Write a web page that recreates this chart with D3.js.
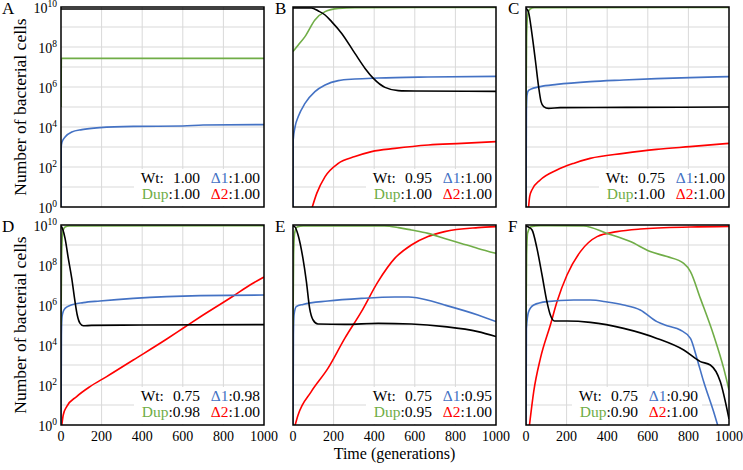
<!DOCTYPE html>
<html><head><meta charset="utf-8">
<script src="https://cdn.jsdelivr.net/npm/d3@7"></script>
<style>
body{margin:0;background:#fff}
</style>
</head><body>
<svg id="chart" width="743" height="470"></svg>
<script>
// ---------------- DATA ----------------
const panelLabels = ["A", "B", "C", "D", "E", "F"];
const xTicks = [0, 200, 400, 600, 800, 1000];
const yTickExponents = [0, 2, 4, 6, 8, 10];
const seriesNames = ["Wt", "Dup", "Δ1", "Δ2"];
const fitWt  = ["1.00", "0.95", "0.75", "0.75", "0.75", "0.75"];
const fitD1  = ["1.00", "1.00", "1.00", "0.98", "0.95", "0.90"];
const fitDup = ["1.00", "1.00", "1.00", "0.98", "0.95", "0.90"];
const fitD2  = ["1.00", "1.00", "1.00", "1.00", "1.00", "1.00"];

// each point: [generation, log10(number of cells)]
const wtA  = [[0,9.9],[1000,9.9]];
const dupA = [[0,5],[2,7.43],[1000,7.43]];
const d1A  = [[0,0],[1,3.0],[5,3.25],[20,3.5],[53,3.75],[103,3.87],[192,3.97],[357,4.03],[600,4.05],[700,4.1],[1000,4.12]];
const d2A  = [];

const wtB  = [[0,9.95],[90,9.95],[125,9.8],[158,9.6],[190,9.27],[240,8.68],[305,7.68],[355,6.93],[396,6.43],[453,5.98],[519,5.82],[600,5.8],[1000,5.78]];
const dupB = [[0,7.77],[26,8.1],[59,8.52],[108,9.35],[158,9.77],[223,9.93],[305,9.97],[1000,9.98]];
const d1B  = [[0,0],[1,3.35],[10,4.0],[26,4.52],[59,5.18],[108,5.77],[158,6.1],[223,6.32],[305,6.4],[420,6.45],[665,6.5],[1000,6.53]];
const d2B  = [[92,-0.1],[117,0.68],[158,1.52],[223,2.18],[305,2.52],[387,2.77],[502,2.93],[667,3.1],[831,3.18],[1000,3.27]];

const wtC  = [[0,9.95],[13,9.72],[29,8.68],[46,7.35],[62,6.02],[74,5.27],[87,5.02],[111,4.93],[169,4.97],[500,4.98],[1000,5.0]];
const dupC = [[0,5],[3,8.5],[8,9.6],[20,9.9],[40,9.97],[1000,9.98]];
const d1C  = [[0,0],[2,4.8],[5,5.6],[12,5.82],[21,5.88],[70,6.02],[152,6.13],[316,6.27],[480,6.35],[643,6.42],[807,6.47],[1000,6.52]];
const d2C  = [[12,-0.1],[18,0.52],[29,0.85],[70,1.35],[152,1.85],[234,2.18],[316,2.43],[480,2.68],[643,2.88],[807,3.02],[1000,3.18]];

const wtD  = [[0,9.95],[8,9.8],[20,9.33],[36,8.33],[53,7.33],[69,6.17],[80,5.5],[94,5.08],[110,4.96],[150,4.98],[400,5.0],[1000,5.02]];
const dupD = [[0,5],[3,8.5],[8,9.6],[20,9.9],[40,9.95],[1000,9.96]];
const d1D  = [[0,0],[2,4.5],[5,5.4],[12,5.7],[20,5.83],[44,5.97],[110,6.12],[192,6.2],[356,6.33],[521,6.42],[685,6.47],[1000,6.5]];
const d2D  = [[3,-0.1],[11,0.5],[28,0.92],[77,1.42],[143,1.92],[225,2.42],[356,3.25],[521,4.3],[603,4.85],[685,5.4],[849,6.45],[931,7.0],[1000,7.4]];

const wtE  = [[0,9.95],[10,9.9],[25,9.5],[49,8.33],[66,7.17],[82,5.83],[99,5.25],[123,5.05],[255,5.03],[419,5.08],[583,5.05],[747,4.92],[911,4.67],[1000,4.42]];
const dupE = [[0,5],[3,8.5],[8,9.6],[20,9.9],[50,9.95],[450,9.95],[520,9.87],[583,9.75],[665,9.58],[747,9.33],[829,9.08],[911,8.83],[1000,8.58]];
const d1E  = [[0,0],[2,4.5],[5,5.5],[16,5.92],[49,6.03],[172,6.2],[337,6.33],[501,6.4],[570,6.4],[616,6.35],[747,6.0],[911,5.5],[1000,5.17]];
const d2E  = [[8,-0.1],[25,0.5],[90,1.67],[172,2.83],[255,4.33],[337,5.67],[419,7.17],[501,8.33],[583,9.0],[665,9.42],[747,9.67],[911,9.87],[1000,9.92]];

const wtF  = [[0,9.95],[12,9.9],[30,9.75],[54,8.83],[79,7.5],[103,6.17],[120,5.5],[140,5.2],[202,5.2],[317,5.13],[481,4.83],[645,4.33],[777,3.75],[859,3.17],[908,3.0],[957,2.17],[1000,0.3]];
const dupF = [[0,5],[3,8.5],[8,9.6],[25,9.92],[70,9.97],[284,9.95],[399,9.58],[514,9.17],[612,8.67],[695,8.42],[777,8.08],[810,7.67],[859,6.33],[924,4.5],[974,2.83],[1000,1.75]];
const d1F  = [[0,0],[2,4.83],[13,5.67],[38,6.0],[103,6.17],[235,6.25],[317,6.25],[400,6.15],[481,6.0],[563,5.75],[645,5.17],[700,4.95],[760,4.75],[810,4.33],[842,3.33],[875,2.17],[924,0.67],[950,-0.2]];
const d2F  = [[16,-0.1],[38,1.67],[71,3.33],[120,5.0],[153,6.17],[202,7.5],[268,8.67],[350,9.42],[448,9.67],[563,9.8],[810,9.9],[1000,9.93]];

const panelSeries = [
  [wtA, dupA, d1A, d2A], [wtB, dupB, d1B, d2B], [wtC, dupC, d1C, d2C],
  [wtD, dupD, d1D, d2D], [wtE, dupE, d1E, d2E], [wtF, dupF, d1F, d2F]
];

// ---------------- LAYOUT / STYLE ----------------
const FONT = "'Liberation Serif'";
const colors = {"Wt": "#000000", "Dup": "#70ad47", "Δ1": "#4472c4", "Δ2": "#ff0000"};
const colLefts = [61, 293, 526];
const rowTops = [7, 225];
const PW = 203, PH = 200;
const legendShift = [0, 0, 0, 0, 0, -27];

const svg = d3.select("#chart");
const defs = svg.append("defs");

function txt(sel) { return sel.append("text").style("font-family", FONT).attr("fill", "#000"); }

panelLabels.forEach((lab, i) => {
  const col = i % 3, row = Math.floor(i / 3);
  const left = colLefts[col], top = rowTops[row];
  const x = d3.scaleLinear().domain([0, 1000]).range([left, left + PW]);
  const y = d3.scaleLinear().domain([0, 10]).range([top + PH, top]);
  const g = svg.append("g");

  // grid
  g.append("g").selectAll("line").data(d3.range(1, 10)).join("line")
    .attr("x1", left).attr("x2", left + PW)
    .attr("y1", d => y(d)).attr("y2", d => y(d))
    .attr("stroke", "#d9d9d9").attr("stroke-width", 1);
  g.append("g").selectAll("line").data(xTicks.slice(1, -1)).join("line")
    .attr("y1", top).attr("y2", top + PH)
    .attr("x1", d => x(d)).attr("x2", d => x(d))
    .attr("stroke", "#d9d9d9").attr("stroke-width", 1);

  defs.append("clipPath").attr("id", "clip" + i).append("rect")
    .attr("x", left).attr("y", top).attr("width", PW).attr("height", PH);

  const line = d3.line().x(d => x(d[0])).y(d => y(d[1])).curve(d3.curveMonotoneX);

  const right = left + PW + legendShift[i];
  const bottom = top + PH;
  const c1 = right - 64, c2 = right - 4;
  g.append("rect").attr("x", c1 - 66).attr("y", bottom - 38)
    .attr("width", c2 - c1 + 70).attr("height", 37).attr("fill", "#fff");

  const lg = g.append("g").attr("clip-path", `url(#clip${i})`);
  [3, 2, 1, 0].forEach(k => {
    const data = panelSeries[i][k];
    if (!data.length) return;
    lg.append("path").datum(data)
      .attr("d", line).attr("fill", "none")
      .attr("stroke", colors[seriesNames[k]]).attr("stroke-width", 1.6)
      .attr("stroke-linejoin", "round");
  });

  // legend text
  const fs = 15.5;
  const row1 = bottom - 24, row2 = bottom - 8;
  const t1 = txt(g).attr("x", c1).attr("y", row1).attr("text-anchor", "end").attr("font-size", fs);
  t1.append("tspan").text("Wt:");
  t1.append("tspan").attr("dx", 9).text(fitWt[i]);
  const t2 = txt(g).attr("x", c2).attr("y", row1).attr("text-anchor", "end").attr("font-size", fs);
  t2.append("tspan").style("fill", colors["Δ1"]).text("Δ1");
  t2.append("tspan").text(":" + fitD1[i]);
  const t3 = txt(g).attr("x", c1).attr("y", row2).attr("text-anchor", "end").attr("font-size", fs);
  t3.append("tspan").style("fill", colors["Dup"]).text("Dup");
  t3.append("tspan").text(":" + fitDup[i]);
  const t4 = txt(g).attr("x", c2).attr("y", row2).attr("text-anchor", "end").attr("font-size", fs);
  t4.append("tspan").style("fill", colors["Δ2"]).text("Δ2");
  t4.append("tspan").text(":" + fitD2[i]);

  // frame
  g.append("rect").attr("x", left).attr("y", top).attr("width", PW).attr("height", PH)
    .attr("fill", "none").attr("stroke", "#000").attr("stroke-width", 1.5);

  // y tick labels (first column only)
  if (col === 0) {
    yTickExponents.forEach(d => {
      const t = txt(g).attr("x", left - 4).attr("y", y(d) + 6)
        .attr("text-anchor", "end").attr("font-size", 14);
      t.append("tspan").text("10");
      t.append("tspan").attr("dy", -6).attr("font-size", 9.5).text(d);
    });
  }

  // x tick labels (bottom row)
  if (row === 1) {
    xTicks.forEach(d => {
      txt(g).attr("x", x(d)).attr("y", bottom + 16)
        .attr("text-anchor", "middle").attr("font-size", 14).text(d);
    });
  }

  // panel letter
  txt(g).attr("x", col === 0 ? 2 : left - 18).attr("y", top + 7)
    .attr("font-size", 17).text(lab);
});

// axis titles
rowTops.forEach(top => {
  txt(svg).attr("transform", `translate(26,${top + PH / 2}) rotate(-90)`)
    .attr("text-anchor", "middle").attr("font-size", 17.5).text("Number of bacterial cells");
});
txt(svg).attr("x", colLefts[1] + PW / 2).attr("y", 459)
  .attr("text-anchor", "middle").attr("font-size", 16).text("Time (generations)");
</script>
</body></html>
